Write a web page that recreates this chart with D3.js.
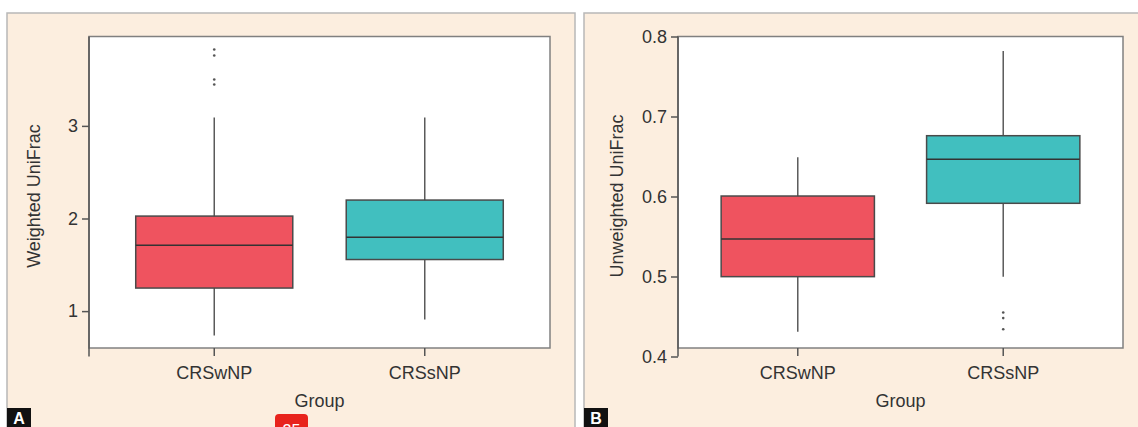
<!DOCTYPE html>
<html>
<head>
<meta charset="utf-8">
<script src="https://cdn.jsdelivr.net/npm/d3@7"></script>
<style>
  body { margin: 0; background: #fff; }
  svg { display: block; font-family: "Liberation Sans", Arial, sans-serif; }
</style>
</head>
<body>
<div id="chart"></div>
<script>
var svgWidth = 1138;
var svgHeight = 427;

// categories
var groups = ["CRSwNP", "CRSsNP"];
var boxColors = ["#EF535F", "#41BFBF"];

// panel A - weighted UniFrac (whisker low, q1, median, q3, whisker high)
var weightedLow = [0.737, 0.910];
var weightedQ1 = [1.249, 1.557];
var weightedMedian = [1.712, 1.798];
var weightedQ3 = [2.026, 2.199];
var weightedHigh = [3.091, 3.091];
var weightedOutliers = [[3.825, 3.760, 3.500, 3.446], []];
var weightedTicks = [1, 2, 3];

// panel B - unweighted UniFrac
var unweightedLow = [0.431, 0.4998];
var unweightedQ1 = [0.4998, 0.5915];
var unweightedMedian = [0.547, 0.6465];
var unweightedQ3 = [0.6006, 0.676];
var unweightedHigh = [0.649, 0.782];
var unweightedOutliers = [[], [0.455, 0.448, 0.434]];
var unweightedTicks = [0.4, 0.5, 0.6, 0.7, 0.8];

var svg = d3.select("#chart")
  .append("svg")
  .attr("width", svgWidth)
  .attr("height", svgHeight);

function buildRows(low, q1, med, q3, high, outliers) {
  return groups.map(function(g, i) {
    return { group: g, low: low[i], q1: q1[i], median: med[i], q3: q3[i], high: high[i], outliers: outliers[i], color: boxColors[i] };
  });
}

function drawPanel(opts) {
  // peach panel background
  svg.append("rect")
    .attr("x", opts.panelX)
    .attr("y", 13)
    .attr("width", opts.panelW)
    .attr("height", 430)
    .attr("fill", "#FCEEDF")
    .attr("stroke", "#b8b8b8")
    .attr("stroke-width", 1.5);

  var plotTop = 36.5;
  var plotBottom = 348;

  var x = d3.scaleBand()
    .domain(groups)
    .range([opts.left, opts.right])
    .paddingInner(0.254)
    .paddingOuter(opts.padOuter);

  var y = d3.scaleLinear()
    .domain(opts.yDomain)
    .range([356.5, plotTop]);

  // white plot frame
  svg.append("rect")
    .attr("x", opts.left)
    .attr("y", plotTop)
    .attr("width", opts.right - opts.left)
    .attr("height", plotBottom - plotTop)
    .attr("fill", "#fff")
    .attr("stroke", "#808080")
    .attr("stroke-width", 1.5);

  var g = svg.append("g");
  var rows = opts.rows;

  // whiskers
  g.selectAll(".whisker")
    .data(rows)
    .enter()
    .append("line")
    .attr("x1", d => x(d.group) + x.bandwidth() / 2)
    .attr("x2", d => x(d.group) + x.bandwidth() / 2)
    .attr("y1", d => y(d.low))
    .attr("y2", d => y(d.high))
    .attr("stroke", "#5a5a5a")
    .attr("stroke-width", 1.5);

  // boxes
  g.selectAll(".box")
    .data(rows)
    .enter()
    .append("rect")
    .attr("x", d => x(d.group))
    .attr("y", d => y(d.q3))
    .attr("width", x.bandwidth())
    .attr("height", d => y(d.q1) - y(d.q3))
    .attr("fill", d => d.color)
    .attr("stroke", "#4a4a4a")
    .attr("stroke-width", 1.5);

  // medians
  g.selectAll(".median")
    .data(rows)
    .enter()
    .append("line")
    .attr("x1", d => x(d.group))
    .attr("x2", d => x(d.group) + x.bandwidth())
    .attr("y1", d => y(d.median))
    .attr("y2", d => y(d.median))
    .attr("stroke", "#333")
    .attr("stroke-width", 1.5);

  // outliers
  rows.forEach(function(d) {
    g.selectAll(null)
      .data(d.outliers)
      .enter()
      .append("circle")
      .attr("cx", x(d.group) + x.bandwidth() / 2)
      .attr("cy", v => y(v))
      .attr("r", 1.3)
      .attr("fill", "#555");
  });

  // y axis (line runs a bit below the frame)
  var leftAxis = d3.axisLeft(y)
    .tickValues(opts.ticks)
    .tickFormat(opts.fmt)
    .tickSize(7)
    .tickSizeOuter(0)
    .tickPadding(4);
  var yAxisG = svg.append("g")
    .attr("transform", `translate(${opts.left}, 0)`)
    .call(leftAxis);
  yAxisG.select(".domain")
    .attr("d", `M0,${plotTop}V356.5`);

  // x axis ticks at categories
  var xAxisG = svg.append("g");
  xAxisG.selectAll(".xtick")
    .data(groups)
    .enter()
    .append("line")
    .attr("x1", d => x(d) + x.bandwidth() / 2)
    .attr("x2", d => x(d) + x.bandwidth() / 2)
    .attr("y1", plotBottom)
    .attr("y2", 356)
    .attr("stroke", "#555")
    .attr("stroke-width", 1.5);
  xAxisG.selectAll(".xlabel")
    .data(groups)
    .enter()
    .append("text")
    .attr("x", d => x(d) + x.bandwidth() / 2)
    .attr("y", 379)
    .attr("text-anchor", "middle")
    .attr("font-size", 18)
    .attr("fill", "#333")
    .text(d => d);

  [yAxisG].forEach(function(a) {
    a.selectAll(".domain").attr("stroke", "#555").attr("stroke-width", 1.5);
    a.selectAll(".tick line").attr("stroke", "#555").attr("stroke-width", 1.5);
    a.selectAll(".tick text").attr("font-size", 18).attr("fill", "#333")
      .attr("font-family", "Liberation Sans, Arial, sans-serif");
  });

  // axis titles
  svg.append("text")
    .attr("x", (opts.left + opts.right) / 2)
    .attr("y", 407)
    .attr("text-anchor", "middle")
    .attr("font-size", 18)
    .attr("fill", "#333")
    .text("Group");

  svg.append("text")
    .attr("transform", `translate(${opts.titleX}, 196) rotate(-90)`)
    .attr("text-anchor", "middle")
    .attr("font-size", 18)
    .attr("fill", "#333")
    .text(opts.yTitle);

  // panel letter
  svg.append("rect")
    .attr("x", opts.panelX)
    .attr("y", 408)
    .attr("width", 24)
    .attr("height", 20)
    .attr("fill", "#111");
  svg.append("text")
    .attr("x", opts.panelX + 12)
    .attr("y", 424)
    .attr("text-anchor", "middle")
    .attr("font-size", 16)
    .attr("font-weight", "bold")
    .attr("fill", "#fff")
    .text(opts.letter);
}

drawPanel({
  panelX: 7, panelW: 568,
  left: 89, right: 550, padOuter: 0.222,
  yDomain: [0.51, 3.965],
  ticks: weightedTicks, fmt: d3.format("d"),
  titleX: 40, yTitle: "Weighted UniFrac", letter: "A",
  rows: buildRows(weightedLow, weightedQ1, weightedMedian, weightedQ3, weightedHigh, weightedOutliers)
});

drawPanel({
  panelX: 584, panelW: 570,
  left: 678, right: 1123, padOuter: 0.21,
  yDomain: [0.4, 0.8],
  ticks: unweightedTicks, fmt: d3.format(".1f"),
  titleX: 623, yTitle: "Unweighted UniFrac", letter: "B",
  rows: buildRows(unweightedLow, unweightedQ1, unweightedMedian, unweightedQ3, unweightedHigh, unweightedOutliers)
});

// page number badge at the bottom edge
svg.append("rect")
  .attr("x", 275)
  .attr("y", 414)
  .attr("width", 33)
  .attr("height", 24)
  .attr("rx", 4)
  .attr("fill", "#E8231C");
svg.append("text")
  .attr("x", 291.5)
  .attr("y", 436)
  .attr("text-anchor", "middle")
  .attr("font-size", 16)
  .attr("fill", "#fff")
  .text("25");
</script>
</body>
</html>
